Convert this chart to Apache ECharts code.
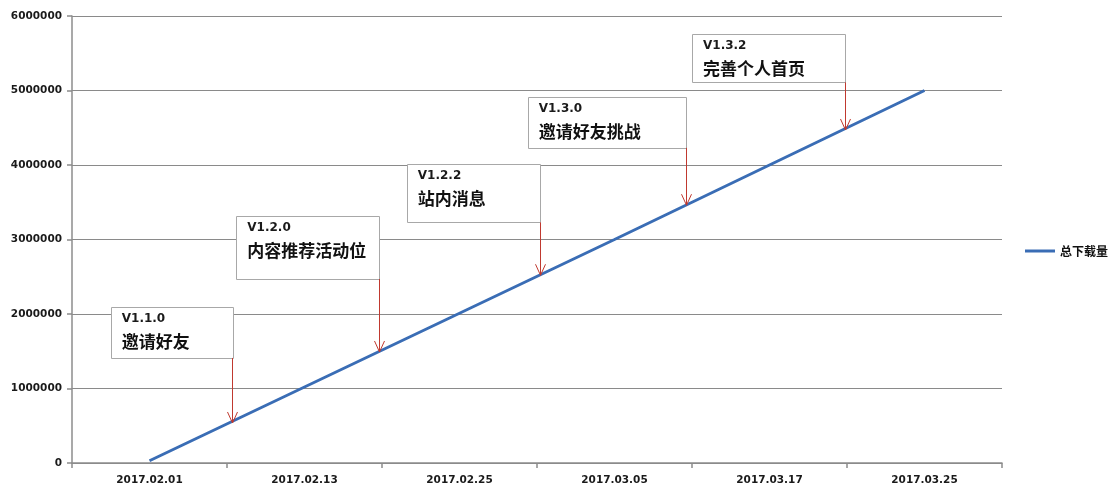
<!DOCTYPE html>
<html>
<head>
<meta charset="utf-8">
<script src="https://cdn.jsdelivr.net/npm/echarts@6/dist/echarts.min.js"></script>
<style>html,body{margin:0;padding:0;background:#fff;}#c{width:1115px;height:488px;}</style>
</head>
<body>
<div id="c"></div>
<script>
// ---- data ----
var categories = ['2017.02.01','2017.02.13','2017.02.25','2017.03.05','2017.03.17','2017.03.25'];
var seriesName = '总下载量';
var downloads = [30000, 1020000, 2010000, 3000000, 4000000, 5000000];
var yTicks = [0, 1000000, 2000000, 3000000, 4000000, 5000000, 6000000];

var versionLabels = ['V1.1.0','V1.2.0','V1.2.2','V1.3.0','V1.3.2'];
var featureLabels = ['邀请好友','内容推荐活动位','站内消息','邀请好友挑战','完善个人首页'];
var releaseX = [0.535, 1.48, 2.52, 3.46, 4.49];          // position along the category axis
var releaseValue = [537000, 1490000, 2520000, 3460000, 4470000]; // download count at release

// ---- annotation box layout (axis coordinates) ----
var boxLeft = [-0.25, 0.56, 1.66, 2.44, 3.50];
var boxTop = [2090000, 3320000, 4010000, 4910000, 5760000];
var boxBottom = [1410000, 2470000, 3230000, 4230000, 5110000];

var annData = releaseX.map(function (x, i) {
  return [x, releaseValue[i], boxLeft[i], boxTop[i], boxBottom[i]];
});

var chart = echarts.init(document.getElementById('c'));
var axisGray = '#8c8c8c';
var labelFont = 'DejaVu Sans';

chart.setOption({
  animation: false,
  backgroundColor: '#ffffff',
  grid: { left: 72, right: 113, top: 16, bottom: 25, containLabel: false },
  legend: {
    data: [seriesName],
    orient: 'vertical',
    left: 1020, top: 240,
    icon: 'rect', itemWidth: 30, itemHeight: 3, itemGap: 5,
    textStyle: { fontFamily: 'Noto Sans CJK SC', fontWeight: 'bold', fontSize: 12, color: '#111' }
  },
  xAxis: [{
    type: 'category',
    data: categories,
    boundaryGap: true,
    axisLine: { lineStyle: { color: axisGray, width: 1.5 } },
    axisTick: { show: true, length: 5, lineStyle: { color: axisGray, width: 1.5 } },
    axisLabel: { fontFamily: labelFont, fontWeight: 'bold', fontSize: 10.5, color: '#1a1a1a', margin: 12 },
    splitLine: { show: false }
  }, {
    type: 'value', min: -0.5, max: 5.5, show: false
  }],
  yAxis: {
    type: 'value',
    min: yTicks[0], max: yTicks[yTicks.length - 1], interval: 1000000,
    axisLine: { show: true, onZero: false, lineStyle: { color: axisGray, width: 1.5 } },
    axisTick: { show: true, length: 5, inside: false, lineStyle: { color: axisGray, width: 1.5 } },
    axisLabel: { fontFamily: labelFont, fontWeight: 'bold', fontSize: 10.5, color: '#1a1a1a', margin: 10,
      formatter: function (v) { return String(v); } },
    splitLine: { show: true, lineStyle: { color: '#8a8a8a', width: 1 } }
  },
  series: [{
    name: seriesName,
    type: 'line',
    data: downloads,
    symbol: 'none',
    lineStyle: { color: '#3a6db5', width: 3 },
    itemStyle: { color: '#3a6db5' },
    z: 3
  }, {
    type: 'custom',
    xAxisIndex: 1,
    data: annData,
    z: 5,
    silent: true,
    renderItem: function (params, api) {
      var i = params.dataIndex;
      var tip = api.coord([api.value(0), api.value(1)]);
      var tl = api.coord([api.value(2), api.value(3)]);
      var br = api.coord([api.value(0), api.value(4)]);
      var ax = Math.round(tip[0]) + 0.5;
      var red = '#c0392f';
      return {
        type: 'group',
        children: [
          { type: 'rect', shape: { x: Math.round(tl[0]) + 0.5, y: Math.round(tl[1]) + 0.5, width: Math.round(br[0] - tl[0]), height: Math.round(br[1] - tl[1]) },
            style: { fill: '#ffffff', stroke: '#a8a8a8', lineWidth: 1 } },
          { type: 'text', style: { text: versionLabels[i], x: tl[0] + 11, y: tl[1] + 6, fill: '#1a1a1a',
            font: 'bold 12px "DejaVu Sans"', verticalAlign: 'top' } },
          { type: 'text', style: { text: featureLabels[i], x: tl[0] + 11, y: tl[1] + 26, fill: '#111',
            font: 'bold 17px "Noto Sans CJK SC"', verticalAlign: 'top' } },
          { type: 'line', shape: { x1: ax, y1: br[1], x2: ax, y2: tip[1] }, style: { stroke: red, lineWidth: 1 } },
          { type: 'polyline', shape: { points: [[ax - 5, tip[1] - 11], [ax, tip[1]], [ax + 5, tip[1] - 11]] },
            style: { stroke: red, lineWidth: 1, fill: null } }
        ]
      };
    }
  }]
});
</script>
</body>
</html>
